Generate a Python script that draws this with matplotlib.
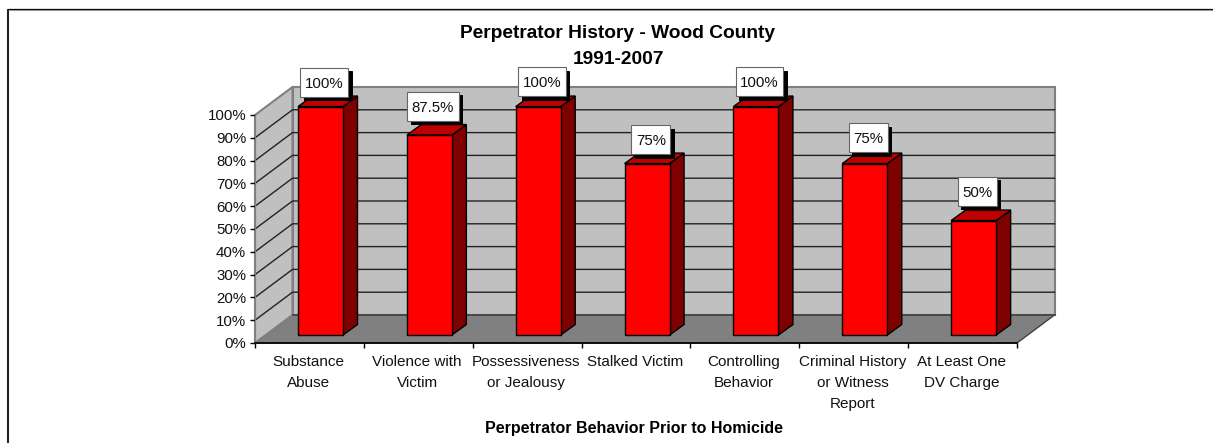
import matplotlib
matplotlib.use("Agg")
import matplotlib.pyplot as plt
from matplotlib.patches import Polygon, Rectangle
from matplotlib.ticker import PercentFormatter
from matplotlib.transforms import IdentityTransform

plt.rcParams["font.family"] = ["Liberation Sans", "DejaVu Sans"]

CATEGORIES = ["Substance\nAbuse", "Violence with\nVictim", "Possessiveness\nor Jealousy",
              "Stalked Victim", "Controlling\nBehavior", "Criminal History\nor Witness\nReport",
              "At Least One\nDV Charge"]
VALUES = [100, 87.5, 100, 75, 100, 75, 50]
LABELS = ["100%", "87.5%", "100%", "75%", "100%", "75%", "50%"]
Y_TICKS = list(range(0, 101, 10))

W, H = 1213, 443
fig = plt.figure(figsize=(W / 100, H / 100), dpi=100)
# whole-figure overlay in image pixels, for the frame
page = fig.add_axes([0, 0, 1, 1])
page.set_xlim(0, W)
page.set_ylim(H, 0)
page.axis("off")
page.plot([8, 8], [443, 8.5], color="#222222", lw=1.5, solid_capstyle="butt")
page.plot([7.5, 1213], [8.5, 8.5], color="black", lw=0.9, solid_capstyle="butt")
page.plot([9, 1213], [9.8, 9.8], color="#999999", lw=0.8, solid_capstyle="butt")

# front plane of the chart: x from 255 to 1017, y from 343 (0%) to 115 (100%)
ax = fig.add_axes([255 / W, 1 - 343 / H, (1017 - 255) / W, (343 - 115) / H])
ax.set_xlim(0, len(VALUES))
ax.set_ylim(0, 100)
ax.patch.set_alpha(0)
for s in ["top", "right"]:
    ax.spines[s].set_visible(False)
ax.spines["left"].set_color("#808080")
ax.spines["bottom"].set_linewidth(1.2)
ax.set_yticks(Y_TICKS)
ax.yaxis.set_major_formatter(PercentFormatter(100, decimals=0))
ax.set_xticks(range(len(VALUES) + 1))
ax.set_xticklabels([])
ax.tick_params(axis="both", length=3.3, width=1, color="black", labelsize=10.8, pad=3, labelcolor="#111111")

# depth of the 3d box, in data units
dx = 37.5 / (762 / 7)
dy = 28 / (228 / 100)
line = "#222222"

n = len(VALUES)
ax.add_patch(Polygon([(0, 0), (n, 0), (n + dx, dy), (dx, dy)], fc="#808080", ec="#404040", lw=1, clip_on=False, zorder=1))
ax.add_patch(Polygon([(dx, dy), (n + dx, dy), (n + dx, 100 + dy), (dx, 100 + dy)], fc="#c0c0c0", ec="#808080", lw=1.5, clip_on=False, zorder=1))
ax.add_patch(Polygon([(0, 0), (dx, dy), (dx, 100 + dy), (0, 100)], fc="#c0c0c0", ec="#808080", lw=1.5, clip_on=False, zorder=1))
for t in Y_TICKS[1:-1]:
    ax.plot([0, dx, n + dx], [t, t + dy, t + dy], color=line, lw=1, clip_on=False, zorder=2)
ax.plot([0, dx], [0, dy], color="#808080", lw=1, clip_on=False, zorder=2)
ax.plot([dx, n + dx], [dy, dy], color="#404040", lw=1.2, clip_on=False, zorder=2)

# bars: front face offset a little into the floor
bw = 45 / (762 / 7)
bdx = 14.5 / (762 / 7)
bdy = 10.5 / (228 / 100)
renderer = fig.canvas.get_renderer()
# how far each label box sits above its bar, pixels
lift = [24.5, 29, 25, 24, 25, 26, 29.5]
for i, v in enumerate(VALUES):
    x0 = i + 0.395
    x1 = x0 + bw
    y0 = 3.5
    y1 = v + y0 + 0.2
    ax.add_patch(Polygon([(x1, y0), (x1 + bdx, y0 + bdy), (x1 + bdx, y1 + bdy), (x1, y1)], fc="#7f0000", ec="black", lw=1, clip_on=False, zorder=3))
    ax.add_patch(Polygon([(x0, y1), (x1, y1), (x1 + bdx, y1 + bdy), (x0 + bdx, y1 + bdy)], fc="#bf0000", ec="black", lw=1, clip_on=False, zorder=3))
    ax.add_patch(Rectangle((x0, y0), bw, y1 - y0, fc="#ff0000", ec="black", lw=1, clip_on=False, zorder=4))
    # value label box with drop shadow, sized from the text
    px, py = ax.transData.transform((x0 + bw / 2, y1))
    px += 3.7
    py += lift[i]
    t = ax.text(px, py, LABELS[i], transform=IdentityTransform(), ha="center", va="center_baseline",
                fontsize=10.8, color="#111111", clip_on=False, zorder=7)
    bw_px = t.get_window_extent(renderer).width + 9
    ax.add_patch(Rectangle((px - bw_px / 2 + 3.5, py - 14.5 - 3.5), bw_px, 29, transform=IdentityTransform(),
                           fc="black", ec="black", lw=0.7, clip_on=False, zorder=5))
    ax.add_patch(Rectangle((px - bw_px / 2, py - 14.5), bw_px, 29, transform=IdentityTransform(),
                           fc="white", ec="#666666", lw=0.8, clip_on=False, zorder=6))

for i, c in enumerate(CATEGORIES):
    ax.text(i + 0.49, -5.4, c, ha="center", va="top", fontsize=11, color="#111111", linespacing=1.6, clip_on=False)

page.text(618, 46.5, "Perpetrator History - Wood County\n1991-2007", ha="center", va="center",
          fontsize=13.8, fontweight="bold", linespacing=1.62, color="black")
page.text(634, 428, "Perpetrator Behavior Prior to Homicide", ha="center", va="center",
          fontsize=11.5, fontweight="bold", color="black")

fig.savefig("out.png", dpi=100)
